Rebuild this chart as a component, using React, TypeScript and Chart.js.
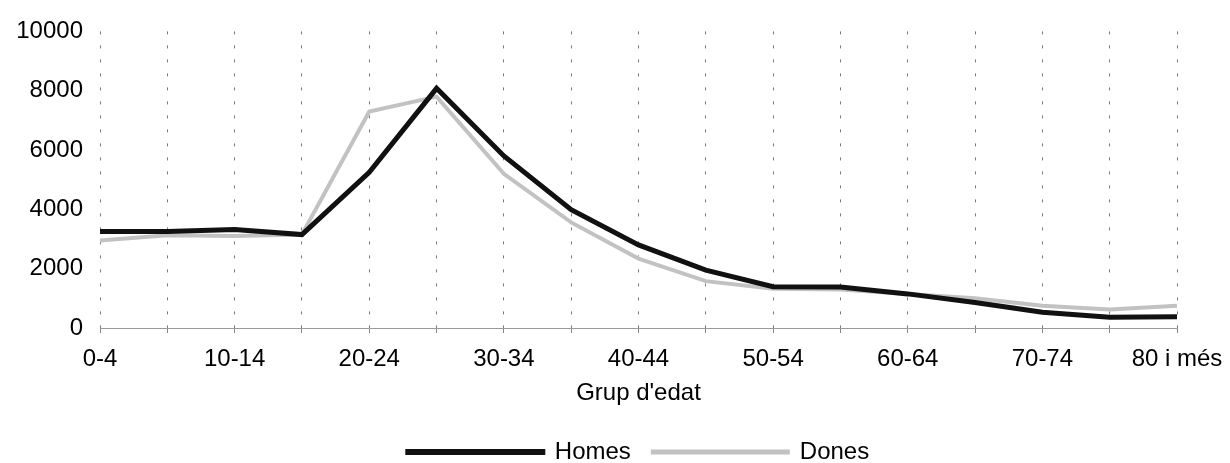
import React, { useEffect, useRef } from "react";
import { Chart, registerables } from "chart.js";

Chart.register(...registerables);

const categories = [
  "0-4", "5-9", "10-14", "15-19", "20-24", "25-29", "30-34", "35-39", "40-44",
  "45-49", "50-54", "55-59", "60-64", "65-69", "70-74", "75-79", "80 i més",
];
const homes = [3250, 3250, 3320, 3150, 5250, 8080, 5800, 3990, 2800, 1950, 1390, 1380, 1150, 860, 530, 360, 380];
const dones = [2950, 3130, 3100, 3150, 7300, 7800, 5200, 3560, 2340, 1580, 1320, 1300, 1150, 1000, 750, 620, 750];
const seriesNames = ["Homes", "Dones"];
const xTitle = "Grup d'edat";
const yMin = 0;
const yMax = 10000;
const yStep = 2000;

export default function App() {
  const ref = useRef<HTMLCanvasElement>(null);
  useEffect(() => {
    if (!ref.current) return;
    Chart.defaults.font.family = "'Liberation Sans', Arial, Helvetica, sans-serif";
    Chart.defaults.color = "#000";
    const chart = new Chart(ref.current, {
      type: "line",
      data: {
        labels: categories,
        datasets: [
          {
            label: seriesNames[0],
            data: homes,
            borderColor: "#111111",
            backgroundColor: "#111111",
            borderWidth: 5,
            pointRadius: 0,
            tension: 0,
          },
          {
            label: seriesNames[1],
            data: dones,
            borderColor: "#c2c2c2",
            backgroundColor: "#c2c2c2",
            borderWidth: 4,
            pointRadius: 0,
            tension: 0,
          },
        ],
      },
      options: {
        responsive: false,
        animation: false,
        layout: { padding: { left: 0, right: 0, top: 25, bottom: -11 } },
        plugins: {
          legend: {
            position: "bottom",
            fullSize: false,
            labels: {
              boxWidth: 135,
              boxHeight: 1,
              padding: 22,
              color: "#000",
              font: { size: 24 },
            },
          },
          tooltip: { enabled: false },
        },
        scales: {
          x: {
            offset: false,
            grid: {
              display: true,
              color: "#7a7a7a",
              lineWidth: 1,
              drawTicks: true,
              tickLength: 5,
              tickColor: "#888",
              tickBorderDash: [],
            },
            border: { display: true, color: "#9a9a9a", width: 1, dash: [3, 11] },
            ticks: {
              autoSkip: false,
              maxRotation: 0,
              minRotation: 0,
              padding: 12,
              color: "#000",
              font: { size: 24 },
              callback: (_v: any, i: number) => (i % 2 === 0 ? categories[i] : ""),
            },
            title: {
              display: true,
              text: xTitle,
              color: "#000",
              font: { size: 24 },
              padding: { top: 4, bottom: 10 },
            },
            afterFit: (s: any) => {
              s.paddingRight = 53;
              s.paddingLeft = 0;
              s.height = 90;
            },
          },
          y: {
            min: yMin,
            max: yMax,
            grid: { display: false, drawTicks: false },
            border: { display: false },
            ticks: {
              stepSize: yStep,
              padding: 17,
              color: "#000",
              font: { size: 24 },
              callback: (v: any) => String(v),
            },
            afterFit: (s: any) => {
              s.width = 100;
            },
          },
        },
      },
    });
    return () => chart.destroy();
  }, []);
  return (
    <div style={{ position: "absolute", left: 0, top: 0, width: 1230, height: 463, background: "#fff" }}>
      <canvas ref={ref} width={1230} height={463} style={{ display: "block" }} />
    </div>
  );
}
